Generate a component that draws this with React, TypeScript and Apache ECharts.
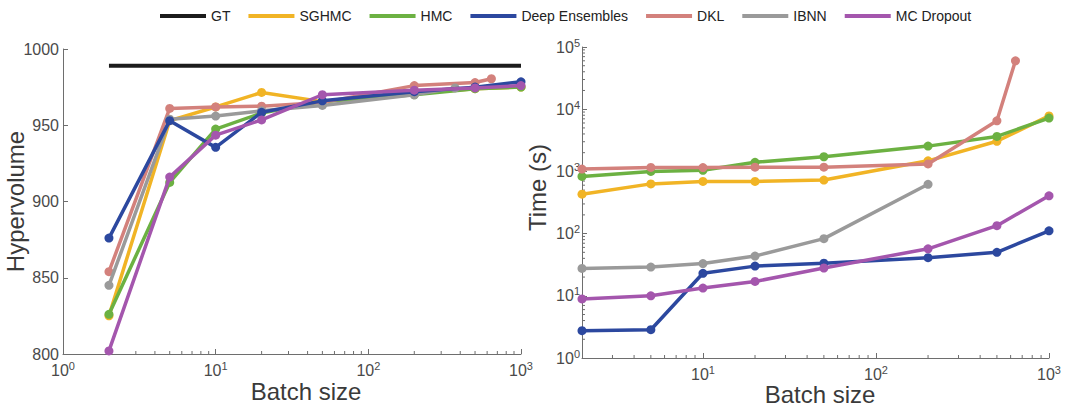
import React, { useEffect, useRef } from 'react';
import * as echarts from 'echarts';

const LEGEND_NAMES = ['GT', 'SGHMC', 'HMC', 'Deep Ensembles', 'DKL', 'IBNN', 'MC Dropout'];
const COLORS: Record<string, string> = {
  GT: '#1c1c1c',
  SGHMC: '#f1b425',
  HMC: '#6cb142',
  'Deep Ensembles': '#2c489f',
  DKL: '#d3817c',
  IBNN: '#9a9a9a',
  'MC Dropout': '#a456ad',
};

// Left panel: Hypervolume vs batch size
const gtX = [2, 1000];
const gtY = [989, 989];
const batchL = [2, 5, 10, 20, 50, 200, 500, 1000];
const sghmcL = [825, 953, 962, 971.5, 965.5, 971, 974, 975];
const hmcL = [826, 912.5, 947.5, 958, 965.5, 970, 974, 975];
const deL = [876, 953, 935.5, 958.5, 966, 972, 975, 978.5];
const dklXL = [2, 5, 10, 20, 50, 200, 500, 640];
const dklL = [854, 961, 962, 962.5, 965, 976, 978, 980.5];
const ibnnXL = [2, 5, 10, 20, 50, 200, 370];
const ibnnL = [845, 954, 956, 959.5, 963, 970, 974.5];
const mcL = [802, 916, 943.5, 953.5, 970, 973, 974.5, 976];

// Right panel: Time (s) vs batch size
const batchR = [2, 5, 10, 20, 50, 200, 500, 1000];
const sghmcR = [430, 630, 690, 690, 725, 1480, 3050, 7800];
const hmcR = [830, 1000, 1040, 1400, 1720, 2550, 3650, 7200];
const deR = [2.75, 2.85, 23, 30, 33.5, 41, 50, 111];
const dklXR = [2, 5, 10, 20, 50, 200, 500, 640];
const dklR = [1090, 1160, 1150, 1170, 1170, 1320, 6500, 60000];
const ibnnXR = [2, 5, 10, 20, 50, 200];
const ibnnR = [27.5, 29, 33, 43.5, 83, 620];
const mcR = [8.9, 10, 13.3, 17, 28, 57, 134, 405];

// minor log ticks
const minorOf = (lo: number, hi: number) => {
  const out: number[] = [];
  for (let d = 1; d < hi; d *= 10) {
    for (let k = 2; k <= 9; k++) {
      const v = k * d;
      if (v > lo && v < hi) out.push(v);
    }
  }
  return out;
};

const zip = (xs: number[], ys: number[]) => xs.map((x, i) => [x, ys[i]]);

const FONT = '"Liberation Sans", Arial, Helvetica, sans-serif';
const AXIS_COLOR = '#6e6e6e';
const LABEL_COLOR = '#4a4a4a';

const powLabel = (v: number) => {
  const e = Math.log10(v);
  if (Math.abs(e - Math.round(e)) > 1e-6) return '';
  return `{b|10}{s|${Math.round(e)}}`;
};
const richPow = {
  b: { fontSize: 16, color: LABEL_COLOR, fontFamily: FONT },
  s: { fontSize: 11, color: LABEL_COLOR, fontFamily: FONT, verticalAlign: 'bottom', padding: [0, 0, 9, 0] },
};

const lineSeries = (name: string, data: number[][], xi: number, z: number, extra: any = {}) => ({
  type: 'line',
  name,
  xAxisIndex: xi,
  yAxisIndex: xi,
  data,
  z,
  symbol: 'circle',
  symbolSize: 9,
  showSymbol: true,
  itemStyle: { color: COLORS[name] },
  lineStyle: { color: COLORS[name], width: 3.5 },
  emphasis: { disabled: true },
  clip: false,
  ...extra,
});

const tickSeries = (xi: number, data: number[][], dir: 'up' | 'right') => ({
  type: 'custom',
  xAxisIndex: xi,
  yAxisIndex: xi,
  silent: true,
  z: 1,
  data,
  renderItem: (_p: any, api: any) => {
    const p = api.coord([api.value(0), api.value(1)]);
    return {
      type: 'line',
      shape: dir === 'up'
        ? { x1: p[0], y1: p[1], x2: p[0], y2: p[1] - 3 }
        : { x1: p[0], y1: p[1], x2: p[0] + 3, y2: p[1] },
      style: { stroke: AXIS_COLOR, lineWidth: 1 },
    };
  },
});

export default function App() {
  const ref = useRef<HTMLDivElement>(null);
  useEffect(() => {
    if (!ref.current) return;
    const chart = echarts.init(ref.current, undefined, { renderer: 'svg' });
    const axisLine = { show: true, lineStyle: { color: AXIS_COLOR, width: 1 } };
    const axisTick = { show: true, inside: true, length: 5, lineStyle: { color: AXIS_COLOR } };
    const nameStyle = { fontSize: 24, color: '#3a3a3a', fontFamily: FONT };
    chart.setOption({
      animation: false,
      backgroundColor: '#ffffff',
      textStyle: { fontFamily: FONT },
      legend: {
        data: LEGEND_NAMES,
        left: 155,
        top: 4,
        icon: 'rect',
        itemWidth: 46,
        itemHeight: 4,
        itemGap: 18,
        textStyle: { fontSize: 14, color: '#222', fontFamily: FONT },
      },
      grid: [
        { left: 63, top: 49, width: 458, height: 305, outerBoundsMode: 'none', containLabel: false },
        { left: 582, top: 47, width: 467, height: 311, outerBoundsMode: 'none', containLabel: false },
      ],
      xAxis: [
        {
          gridIndex: 0,
          type: 'log',
          logBase: 10,
          min: 1,
          max: 1000,
          axisLine,
          axisTick,
          splitLine: { show: false },
          axisLabel: { formatter: powLabel, rich: richPow, margin: 6 },
          name: 'Batch size',
          nameLocation: 'middle',
          nameGap: 25,
          nameMoveOverlap: false,
          nameTextStyle: { ...nameStyle, padding: [0, 0, 0, 28] },
        },
        {
          gridIndex: 1,
          type: 'log',
          logBase: 10,
          min: 2,
          max: 1000,
          axisLine,
          axisTick,
          splitLine: { show: false },
          axisLabel: { formatter: powLabel, rich: richPow, margin: 6 },
          name: 'Batch size',
          nameLocation: 'middle',
          nameGap: 24,
          nameMoveOverlap: false,
          nameTextStyle: { ...nameStyle, padding: [0, 0, 0, 9] },
        },
      ],
      yAxis: [
        {
          gridIndex: 0,
          type: 'value',
          min: 800,
          max: 1000,
          interval: 50,
          axisLine,
          axisTick,
          splitLine: { show: false },
          axisLabel: { fontSize: 16, color: LABEL_COLOR, margin: 4, formatter: (v: number) => String(v) },
          name: 'Hypervolume',
          nameLocation: 'middle',
          nameGap: 36,
          nameMoveOverlap: false,
          nameTextStyle: nameStyle,
        },
        {
          gridIndex: 1,
          type: 'log',
          logBase: 10,
          min: 1,
          max: 100000,
          axisLine,
          axisTick,
          splitLine: { show: false },
          axisLabel: { formatter: powLabel, rich: richPow, margin: 2 },
          name: 'Time (s)',
          nameLocation: 'middle',
          nameGap: 33,
          nameMoveOverlap: false,
          nameTextStyle: { ...nameStyle, padding: [0, 0, 0, 30] },
        },
      ],
      series: [
        tickSeries(0, minorOf(1, 1000).map((v) => [v, 800]), 'up'),
        tickSeries(1, minorOf(2, 1000).map((v) => [v, 1]), 'up'),
        tickSeries(1, minorOf(1, 100000).map((v) => [2, v]), 'right'),
        lineSeries('GT', zip(gtX, gtY), 0, 2, { symbol: 'none', lineStyle: { color: COLORS.GT, width: 4 } }),
        lineSeries('SGHMC', zip(batchL, sghmcL), 0, 3),
        lineSeries('HMC', zip(batchL, hmcL), 0, 4),
        lineSeries('DKL', zip(dklXL, dklL), 0, 5),
        lineSeries('IBNN', zip(ibnnXL, ibnnL), 0, 6),
        lineSeries('Deep Ensembles', zip(batchL, deL), 0, 7),
        lineSeries('MC Dropout', zip(batchL, mcL), 0, 8),
        lineSeries('SGHMC', zip(batchR, sghmcR), 1, 3),
        lineSeries('HMC', zip(batchR, hmcR), 1, 4),
        lineSeries('Deep Ensembles', zip(batchR, deR), 1, 5),
        lineSeries('DKL', zip(dklXR, dklR), 1, 6),
        lineSeries('IBNN', zip(ibnnXR, ibnnR), 1, 7),
        lineSeries('MC Dropout', zip(batchR, mcR), 1, 8),
      ],
    });
    return () => chart.dispose();
  }, []);
  return (
    <div
      ref={ref}
      style={{ position: 'absolute', left: 0, top: 0, width: 1067, height: 410, background: '#fff' }}
    />
  );
}
